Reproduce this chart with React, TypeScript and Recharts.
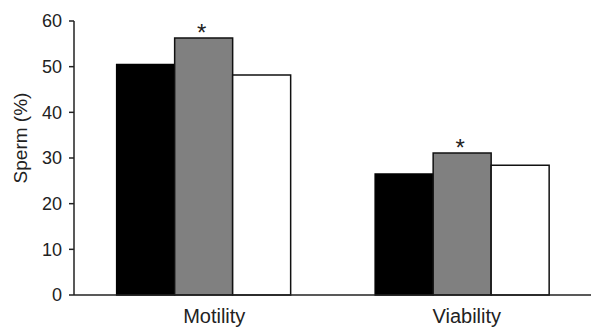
import { BarChart, Bar, XAxis, YAxis, LabelList } from "recharts"

const categories = ["Motility", "Viability"]
const blackValues = [50.5, 26.5]
const grayValues = [56.3, 31.1]
const whiteValues = [48.2, 28.4]
const marks = ["*", "*"]
const yTicks = [0, 10, 20, 30, 40, 50, 60]

const data = categories.map((name, i) => ({
  name,
  black: blackValues[i],
  gray: grayValues[i],
  white: whiteValues[i],
  mark: marks[i],
}))

const font = "'Liberation Sans', Arial, sans-serif"
const tickShift: Record<string, number> = { Motility: 11, Viability: 5 }

const CategoryTick = (props: any) => {
  const { x, y, payload } = props
  return (
    <text x={x + (tickShift[payload.value] || 0)} y={y} dy="0.71em" textAnchor="middle"
      fill="#222" fontSize={20} fontFamily={font}>
      {payload.value}
    </text>
  )
}

const Asterisk = (props: any) => {
  const { x, y, width, value } = props
  return (
    <text x={x + width / 2 - 2} y={y + 3} textAnchor="middle" fill="#222" fontSize={24} fontFamily={font}>
      {value}
    </text>
  )
}

const YLabel = (props: any) => {
  const vb = props.viewBox
  const cx = 20.5
  const cy = vb.y + vb.height / 2 - 20
  return (
    <text x={cx} y={cy} transform={`rotate(-90, ${cx}, ${cy})`} textAnchor="middle"
      dominantBaseline="central" fill="#222" fontSize={19} fontFamily={font}>
      Sperm (%)
    </text>
  )
}

export default function App() {
  return (
    <div style={{ position: "absolute", left: 0, top: 0, background: "#fff" }}>
      <BarChart width={591} height={329} data={data} barGap={0} barCategoryGap="16.5%"
        margin={{ top: 21, right: 0, bottom: 4, left: 0 }}>
        <XAxis dataKey="name" height={30} tickLine={false} tickSize={0} tickMargin={14}
          axisLine={{ stroke: "#222", strokeWidth: 1.5 }} tick={<CategoryTick />} />
        <YAxis width={74} domain={[0, 60]} ticks={yTicks} tickSize={5} tickMargin={7}
          axisLine={{ stroke: "#222", strokeWidth: 1.5 }} tickLine={{ stroke: "#222", strokeWidth: 1.5 }}
          tick={{ fill: "#222", fontSize: 18, fontFamily: font }}
          label={<YLabel />} />
        <Bar dataKey="black" fill="#000" stroke="#000" strokeWidth={1.5} isAnimationActive={false} />
        <Bar dataKey="gray" fill="#808080" stroke="#111" strokeWidth={1.5} isAnimationActive={false}>
          <LabelList dataKey="mark" content={<Asterisk />} />
        </Bar>
        <Bar dataKey="white" fill="#fff" stroke="#111" strokeWidth={1.5} isAnimationActive={false} />
      </BarChart>
    </div>
  )
}
